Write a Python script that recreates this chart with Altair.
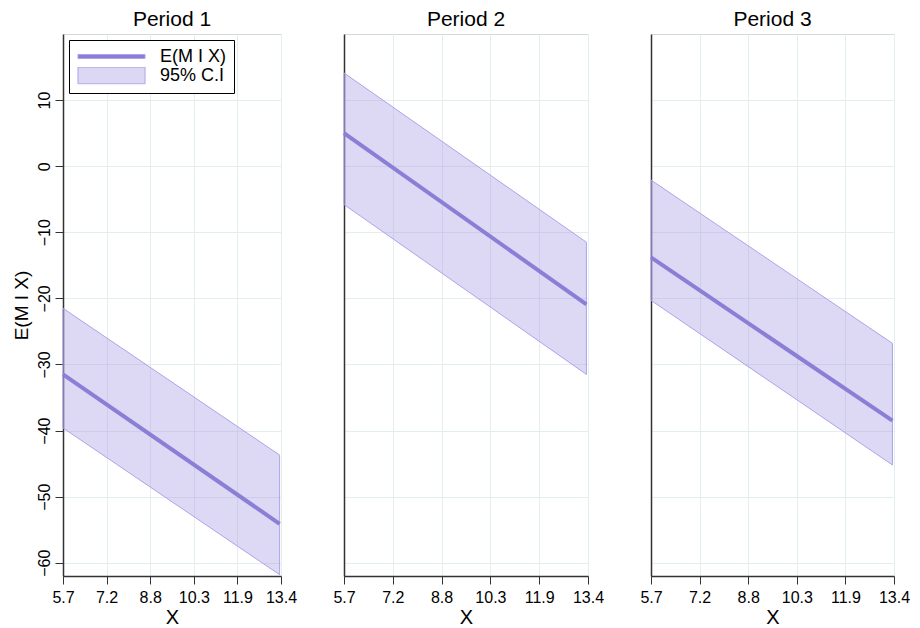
import altair as alt
import pandas as pd

FONT = "Liberation Sans"

periods = ["Period 1", "Period 2", "Period 3"]
x_ends = [5.7, 13.35]

mean_1 = [-31.5, -54.1]
lower_1 = [-39.6, -61.8]
upper_1 = [-21.5, -43.7]

mean_2 = [5.0, -20.9]
lower_2 = [-5.8, -31.5]
upper_2 = [14.1, -11.5]

mean_3 = [-13.8, -38.5]
lower_3 = [-20.3, -45.2]
upper_3 = [-2.1, -26.8]

x_ticks = [5.7, 7.24, 8.78, 10.32, 11.86, 13.4]
y_ticks = [-60, -50, -40, -30, -20, -10, 0, 10]
series_names = ["E(M I X)", "95% C.I"]

LINE = "#8a7ed6"
BAND = "#9d8fe0"
BAND_EDGE = "#aea3ea"
BAND_SOLID = "#dcd7f3"

line_path = "M-1,-0.06L1,-0.06L1,0.06L-1,0.06Z"
band_path = "M-1,-0.25L1,-0.25L1,0.25L-1,0.25Z"


def panel(title, mean, lower, upper, first, width):
    df = pd.DataFrame({"x": x_ends, "mean": mean, "lower": lower, "upper": upper})
    xenc = alt.X(
        "x:Q",
        scale=alt.Scale(domain=[5.7, 13.4], nice=False, zero=False),
        axis=alt.Axis(values=x_ticks, format=".1f", title="X", labelFlush=False,
                      labelPadding=5, titlePadding=2),
    )
    if first:
        yaxis = alt.Axis(values=y_ticks, title="E(M I X)", labelAngle=270,
                         labelAlign="center", labelBaseline="bottom",
                         labelFlush=False, labelPadding=3, titlePadding=5,
                         titleFontSize=19)
    else:
        yaxis = alt.Axis(values=y_ticks, title=None, labels=False, ticks=False)
    yscale = alt.Scale(domain=[-62, 20], nice=False, zero=False)
    band = alt.Chart(df).mark_area(
        fill=BAND, fillOpacity=0.35, stroke=BAND_EDGE, strokeWidth=1
    ).encode(
        x=xenc,
        y=alt.Y("lower:Q", scale=yscale, axis=yaxis),
        y2="upper:Q",
    )
    line = alt.Chart(df).mark_line(color=LINE, strokeWidth=4).encode(
        x=xenc,
        y=alt.Y("mean:Q", scale=yscale, axis=yaxis),
    )
    layers = [band, line]
    if first:
        leg_df = pd.DataFrame({"series": series_names})
        legend_layer = alt.Chart(leg_df).mark_point(filled=True, opacity=1).encode(
            color=alt.Color(
                "series:N",
                scale=alt.Scale(domain=series_names, range=[LINE, BAND_SOLID]),
                legend=alt.Legend(
                    title=None, orient="top-left", offset=6, padding=8,
                    strokeColor="black", fillColor="white",
                    labelFontSize=18, labelFont=FONT, labelColor="black",
                    symbolSize=4500, clipHeight=17, rowPadding=0, labelOffset=14,
                    symbolStrokeColor=BAND_EDGE, symbolStrokeWidth=1,
                ),
            ),
            shape=alt.Shape(
                "series:N",
                scale=alt.Scale(domain=series_names, range=[line_path, band_path]),
            ),
        ).transform_filter("false")
        layers.append(legend_layer)
    return alt.layer(*layers).properties(
        width=width, height=542,
        title=alt.TitleParams(title, fontSize=21, fontWeight="normal", font=FONT,
                              color="black", offset=4),
    )


p1 = panel(periods[0], mean_1, lower_1, upper_1, True, 218)
p2 = panel(periods[1], mean_2, lower_2, upper_2, False, 244)
p3 = panel(periods[2], mean_3, lower_3, upper_3, False, 243)

chart = alt.hconcat(p1, p2, p3, spacing=63, bounds="flush").resolve_scale(
    color="independent", shape="independent"
).properties(
    padding={"left": 3, "top": 0, "right": 0, "bottom": 0},
    background="white",
).configure_view(
    stroke="#d3dada", strokeWidth=1
).configure_axis(
    gridColor="#e3eeee", gridWidth=1,
    domainColor="#333333", domainWidth=1.5,
    tickColor="#333333", tickSize=8, tickWidth=1,
    labelFont=FONT, labelFontSize=16, labelColor="black",
    titleFont=FONT, titleFontSize=20, titleFontWeight="normal", titleColor="black",
)

chart.save("out.html", embed_options={"renderer": "svg", "actions": False})
